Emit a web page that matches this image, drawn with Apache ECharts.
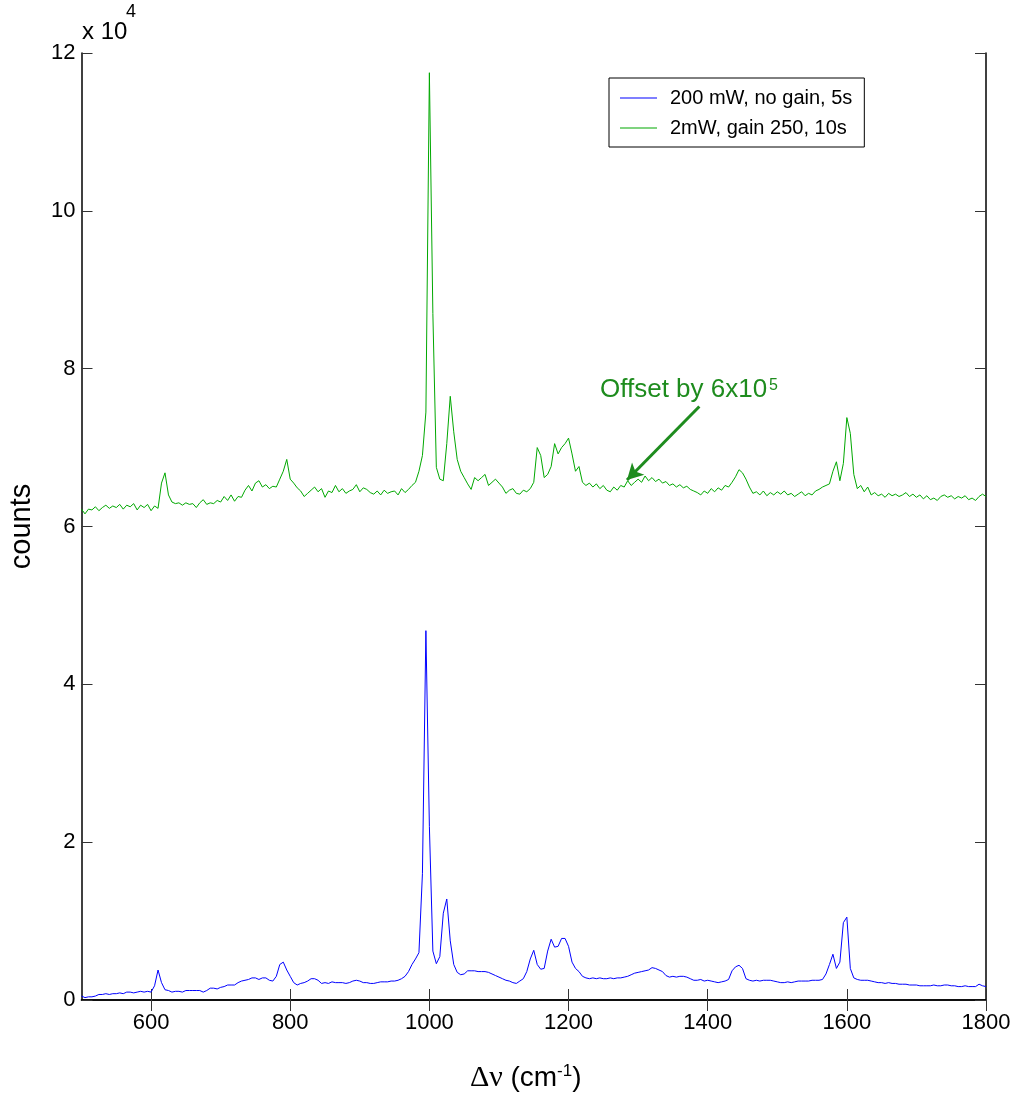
<!DOCTYPE html>
<html>
<head>
<meta charset="utf-8">
<script src="https://cdn.jsdelivr.net/npm/echarts@6/dist/echarts.min.js"></script>
<style>
  html, body { margin: 0; padding: 0; background: #fff; }
  #chart { width: 1013px; height: 1097px; }
</style>
</head>
<body>
<div id="chart"></div>
<script>
// Raman spectra, counts in units of 10^4, sampled every 5 cm-1 from 500 to 1800
const shiftStart = 500
const shiftStep = 5

const blueCounts = [
  0.05, 0.03, 0.04, 0.04, 0.05, 0.07, 0.07, 0.08, 0.07, 0.08, 0.08, 0.09, 0.08, 0.10, 0.10, 0.09, 0.10, 0.11, 0.10, 0.11,
  0.10, 0.18, 0.38, 0.22, 0.13, 0.12, 0.10, 0.11, 0.11, 0.10, 0.12, 0.12, 0.12, 0.12, 0.12, 0.10, 0.12, 0.15, 0.15, 0.14,
  0.16, 0.17, 0.19, 0.19, 0.19, 0.22, 0.24, 0.25, 0.26, 0.28, 0.28, 0.26, 0.28, 0.28, 0.25, 0.24, 0.30, 0.45, 0.48, 0.38,
  0.30, 0.22, 0.19, 0.21, 0.22, 0.24, 0.27, 0.27, 0.25, 0.21, 0.22, 0.21, 0.23, 0.22, 0.22, 0.22, 0.21, 0.22, 0.24, 0.25,
  0.24, 0.22, 0.22, 0.21, 0.21, 0.22, 0.23, 0.23, 0.23, 0.24, 0.24, 0.25, 0.27, 0.30, 0.36, 0.45, 0.52, 0.60, 1.60, 4.68,
  2.20, 0.62, 0.46, 0.55, 1.10, 1.28, 0.75, 0.45, 0.35, 0.32, 0.33, 0.37, 0.37, 0.37, 0.36, 0.36, 0.36, 0.35, 0.33, 0.31,
  0.29, 0.27, 0.25, 0.24, 0.22, 0.21, 0.24, 0.27, 0.36, 0.52, 0.63, 0.45, 0.39, 0.40, 0.62, 0.77, 0.67, 0.68, 0.78, 0.78,
  0.68, 0.48, 0.40, 0.36, 0.30, 0.28, 0.27, 0.28, 0.27, 0.28, 0.27, 0.27, 0.28, 0.27, 0.28, 0.28, 0.29, 0.30, 0.32, 0.34,
  0.35, 0.36, 0.37, 0.38, 0.41, 0.40, 0.38, 0.36, 0.31, 0.29, 0.30, 0.29, 0.30, 0.30, 0.29, 0.27, 0.25, 0.25, 0.26, 0.24,
  0.25, 0.24, 0.23, 0.22, 0.23, 0.24, 0.26, 0.37, 0.42, 0.44, 0.40, 0.27, 0.25, 0.24, 0.25, 0.24, 0.25, 0.25, 0.25, 0.24,
  0.23, 0.22, 0.22, 0.23, 0.22, 0.23, 0.24, 0.24, 0.24, 0.24, 0.25, 0.25, 0.25, 0.26, 0.33, 0.45, 0.58, 0.40, 0.48, 0.98,
  1.05, 0.40, 0.28, 0.26, 0.25, 0.25, 0.25, 0.24, 0.23, 0.22, 0.22, 0.21, 0.22, 0.21, 0.21, 0.20, 0.20, 0.20, 0.19, 0.19,
  0.19, 0.18, 0.18, 0.18, 0.18, 0.19, 0.18, 0.18, 0.19, 0.19, 0.18, 0.18, 0.17, 0.17, 0.18, 0.17, 0.17, 0.17, 0.20, 0.18,
  0.17
]

const greenCounts = [
  6.22, 6.16, 6.22, 6.21, 6.25, 6.20, 6.24, 6.27, 6.23, 6.26, 6.24, 6.28, 6.22, 6.27, 6.25, 6.29, 6.21, 6.27, 6.24, 6.28,
  6.20, 6.26, 6.23, 6.55, 6.68, 6.40, 6.31, 6.29, 6.30, 6.27, 6.30, 6.28, 6.29, 6.24, 6.30, 6.34, 6.28, 6.30, 6.29, 6.33,
  6.31, 6.38, 6.33, 6.40, 6.32, 6.38, 6.37, 6.46, 6.52, 6.45, 6.55, 6.58, 6.50, 6.53, 6.48, 6.51, 6.50, 6.60, 6.70, 6.85,
  6.60, 6.55, 6.49, 6.45, 6.38, 6.42, 6.46, 6.50, 6.44, 6.48, 6.37, 6.45, 6.43, 6.52, 6.44, 6.48, 6.42, 6.45, 6.47, 6.53,
  6.44, 6.49, 6.47, 6.43, 6.41, 6.45, 6.40, 6.46, 6.42, 6.44, 6.45, 6.40, 6.48, 6.43, 6.47, 6.52, 6.56, 6.70, 6.90, 7.45,
  11.75, 8.70, 6.75, 6.60, 6.58, 7.05, 7.65, 7.20, 6.85, 6.70, 6.62, 6.54, 6.47, 6.62, 6.58, 6.62, 6.66, 6.52, 6.56, 6.60,
  6.55, 6.50, 6.42, 6.46, 6.48, 6.42, 6.41, 6.46, 6.44, 6.48, 6.56, 7.00, 6.90, 6.62, 6.66, 6.76, 7.05, 6.92, 7.00, 7.05,
  7.12, 6.92, 6.70, 6.76, 6.56, 6.52, 6.55, 6.50, 6.54, 6.48, 6.52, 6.46, 6.44, 6.50, 6.46, 6.52, 6.50, 6.58, 6.52, 6.56,
  6.60, 6.56, 6.64, 6.58, 6.62, 6.57, 6.60, 6.55, 6.57, 6.52, 6.54, 6.50, 6.53, 6.49, 6.51, 6.47, 6.45, 6.43, 6.40, 6.45,
  6.42, 6.48, 6.44, 6.49, 6.46, 6.52, 6.50, 6.56, 6.63, 6.72, 6.68, 6.60, 6.50, 6.42, 6.44, 6.40, 6.45, 6.39, 6.43, 6.40,
  6.44, 6.41, 6.45, 6.40, 6.42, 6.38, 6.41, 6.44, 6.39, 6.42, 6.40, 6.45, 6.47, 6.50, 6.52, 6.54, 6.70, 6.82, 6.58, 6.80,
  7.38, 7.18, 6.66, 6.48, 6.52, 6.44, 6.50, 6.40, 6.43, 6.39, 6.41, 6.37, 6.42, 6.39, 6.41, 6.38, 6.40, 6.43, 6.38, 6.41,
  6.37, 6.40, 6.35, 6.39, 6.34, 6.36, 6.33, 6.38, 6.40, 6.37, 6.39, 6.35, 6.38, 6.36, 6.39, 6.34, 6.36, 6.33, 6.38, 6.41,
  6.38
]

const seriesNames = ['200 mW, no gain, 5s', '2mW, gain 250, 10s']
const xTicks = [600, 800, 1000, 1200, 1400, 1600, 1800]
// arrow of the "Offset" note, in data units (shift, counts x 10^4)
const arrowFrom = [1388, 7.52]
const arrowTo = [1284, 6.59]

const sans = '"Liberation Sans", Arial, sans-serif'
const noteGreen = '#1e8c1e'

function pairs(values) {
  return values.map((v, i) => [shiftStart + i * shiftStep, v])
}

const chart = echarts.init(document.getElementById('chart'), null, { renderer: 'canvas' })

const boxAxis = {
  axisLine: { show: true, lineStyle: { color: '#000', width: 1.5 } },
  splitLine: { show: false }
}

chart.setOption({
  backgroundColor: '#fff',
  animation: false,
  grid: { left: 81.5, right: 27, top: 53, bottom: 97, containLabel: false, outerBoundsMode: 'none' },
  legend: {
    left: 609, top: 78,
    orient: 'vertical',
    data: seriesNames,
    icon: 'rect',
    itemWidth: 37, itemHeight: 1.2, itemGap: 8,
    padding: [9, 12, 8, 11],
    borderColor: '#000', borderWidth: 1,
    textStyle: { fontFamily: sans, fontSize: 20, color: '#000', lineHeight: 22, padding: [0, 0, 0, 8] }
  },
  xAxis: [
    Object.assign({}, boxAxis, {
      type: 'value', min: 500, max: 1800, position: 'bottom',
      axisTick: { inside: true, length: 11, customValues: xTicks, lineStyle: { color: '#333' } },
      axisLabel: {
        customValues: xTicks, fontFamily: sans, fontSize: 22, color: '#000', margin: 12,
        formatter: v => String(v)
      },
      name: '{g|Δν }{s|(cm}{sup|-1}{s|)}',
      nameLocation: 'middle', nameGap: 63,
      nameTextStyle: {
        padding: [0, 16, 0, 0],
        rich: {
          g: { fontFamily: '"Liberation Serif", "Times New Roman", serif', fontSize: 30, color: '#000' },
          s: { fontFamily: sans, fontSize: 28, color: '#000' },
          sup: { fontFamily: sans, fontSize: 17, color: '#000', verticalAlign: 'top', padding: [0, 0, 14, 0] }
        }
      }
    }),
    Object.assign({}, boxAxis, {
      type: 'value', min: 500, max: 1800, position: 'top',
      axisTick: { inside: true, length: 11, customValues: xTicks, lineStyle: { color: '#333' } },
      axisLabel: { show: false }
    })
  ],
  yAxis: [
    Object.assign({}, boxAxis, {
      type: 'value', min: 0, max: 12, interval: 2, position: 'left',
      axisTick: { inside: true, length: 11, lineStyle: { color: '#333' } },
      axisLabel: { fontFamily: sans, fontSize: 22, color: '#000', margin: 6 },
      name: 'counts', nameLocation: 'middle', nameGap: 45, nameRotate: 90,
      nameTextStyle: { fontFamily: sans, fontSize: 29, color: '#000' }
    }),
    Object.assign({}, boxAxis, {
      type: 'value', min: 0, max: 12, interval: 2, position: 'right',
      axisTick: { inside: true, length: 11, lineStyle: { color: '#333' } },
      axisLabel: { show: false }
    })
  ],
  series: [
    {
      name: seriesNames[0], type: 'line', data: pairs(blueCounts),
      symbol: 'none', lineStyle: { color: '#0000ff', width: 1 }, itemStyle: { color: '#0000ff' }
    },
    {
      name: seriesNames[1], type: 'line', data: pairs(greenCounts),
      symbol: 'none', lineStyle: { color: '#00a800', width: 1 }, itemStyle: { color: '#00a800' },
      markLine: {
        silent: true, symbol: ['none', 'arrow'], symbolSize: [13, 16],
        label: { show: false },
        lineStyle: { color: noteGreen, width: 3, type: 'solid' },
        data: [[{ coord: arrowFrom }, { coord: arrowTo }]]
      }
    }
  ],
  graphic: [
    { type: 'text', left: 82, top: 20, style: { text: 'x 10', font: '24px ' + sans, fill: '#000' } },
    { type: 'text', left: 126, top: 3, style: { text: '4', font: '18px ' + sans, fill: '#000' } },
    { type: 'text', left: 600, top: 377, style: { text: 'Offset by 6x10', font: '26px ' + sans, fill: noteGreen } },
    { type: 'text', left: 769, top: 378, style: { text: '5', font: '16px ' + sans, fill: noteGreen } }
  ]
})
</script>
</body>
</html>
